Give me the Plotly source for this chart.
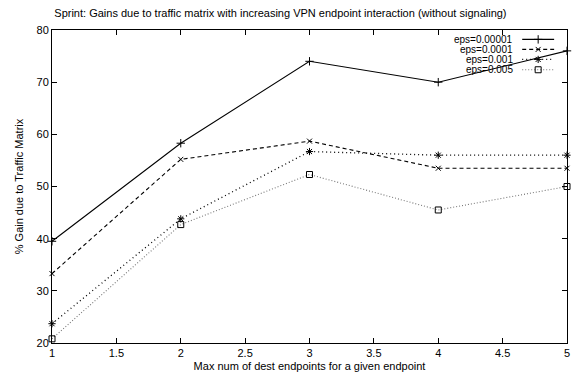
import plotly.graph_objects as go

# Max number of destination endpoints per endpoint
endpoints = [1, 2, 3, 4, 5]

# % gain due to traffic matrix for each epsilon
gain_eps_00001 = [39.5, 58.3, 74.0, 70.0, 76.0]
gain_eps_0001 = [33.3, 55.2, 58.7, 53.5, 53.5]
gain_eps_001 = [23.7, 43.8, 56.7, 56.0, 56.0]
gain_eps_005 = [20.8, 42.7, 52.3, 45.5, 50.0]

series_names = ["eps=0.00001", "eps=0.0001", "eps=0.001", "eps=0.005"]
series_values = [gain_eps_00001, gain_eps_0001, gain_eps_001, gain_eps_005]

x_ticks = [1, 1.5, 2, 2.5, 3, 3.5, 4, 4.5, 5]
x_tick_labels = ["1", "1.5", "2", "2.5", "3", "3.5", "4", "4.5", "5"]
y_ticks = [20, 30, 40, 50, 60, 70, 80]

styles = [
    dict(color="#000000", dash="solid", width=1.1, symbol="cross-thin-open", size=6, mcolor="#000000"),
    dict(color="#000000", dash="4px,3px", width=1.1, symbol="x-thin-open", size=5, mcolor="#000000"),
    dict(color="#000000", dash="1px,3px", width=1.3, symbol="asterisk-open", size=6, mcolor="#000000"),
    dict(color="#777777", dash="1px,2px", width=1.1, symbol="square-open", size=6, mcolor="#000000"),
]

FONT = "Liberation Sans, Arial, Helvetica, sans-serif"

fig = go.Figure()

for name, vals, st in zip(series_names, series_values, styles):
    fig.add_trace(go.Scatter(
        x=endpoints, y=vals, name=name, mode="lines+markers",
        line=dict(color=st["color"], dash=st["dash"], width=st["width"]),
        marker=dict(symbol=st["symbol"], size=st["size"], color=st["mcolor"],
                    line=dict(width=1.0, color=st["mcolor"])),
        showlegend=False, cliponaxis=False,
    ))

# Key in the upper right: label, then a line sample with its marker
key_rows = [0.970, 0.938, 0.906, 0.873]
key_x0, key_x1, key_text_x = 0.913, 0.975, 0.898
for name, st, ry in zip(series_names, styles, key_rows):
    fig.add_trace(go.Scatter(
        x=[key_x0, key_x1], y=[ry, ry], mode="lines", xaxis="x2", yaxis="y2",
        line=dict(color=st["color"], dash=st["dash"], width=st["width"]),
        showlegend=False, hoverinfo="skip",
    ))
    fig.add_trace(go.Scatter(
        x=[(key_x0 + key_x1) / 2], y=[ry], mode="markers", xaxis="x2", yaxis="y2",
        marker=dict(symbol=st["symbol"], size=st["size"], color=st["mcolor"],
                    line=dict(width=1.0, color=st["mcolor"])),
        showlegend=False, hoverinfo="skip",
    ))
    fig.add_annotation(
        x=key_text_x, y=ry, xref="x2", yref="y2", text=name, showarrow=False,
        xanchor="right", yanchor="middle", borderpad=0,
        font=dict(size=10, color="#000000", family=FONT),
    )

axis_common = dict(
    showgrid=False, zeroline=False, showline=True, linecolor="#000000", linewidth=1,
    mirror="allticks", ticks="inside", ticklen=5, tickwidth=1, tickcolor="#000000",
    tickfont=dict(size=11, color="#000000", family=FONT),
)

fig.update_layout(
    width=577, height=381,
    margin=dict(l=52, r=7, t=30, b=38),
    paper_bgcolor="#ffffff", plot_bgcolor="#ffffff",
    font=dict(family=FONT, color="#000000"),
    title=dict(
        text="Sprint: Gains due to traffic matrix with increasing VPN endpoint interaction (without signaling)",
        x=0.486, xref="container", xanchor="center", y=0.965, yanchor="middle",
        font=dict(size=11, color="#000000", family=FONT),
    ),
    xaxis=dict(
        range=[1, 5], tickvals=x_ticks, ticktext=x_tick_labels,
        title=dict(text="Max num of dest endpoints for a given endpoint",
                   font=dict(size=11, color="#000000", family=FONT), standoff=4),
        **axis_common,
    ),
    yaxis=dict(
        range=[20, 80], tickvals=y_ticks,
        title=dict(text="% Gain due to Traffic Matrix",
                   font=dict(size=11, color="#000000", family=FONT), standoff=10),
        **axis_common,
    ),
    xaxis2=dict(overlaying="x", range=[0, 1], visible=False, fixedrange=True),
    yaxis2=dict(overlaying="y", range=[0, 1], visible=False, fixedrange=True),
)

fig.write_html("out.html")
